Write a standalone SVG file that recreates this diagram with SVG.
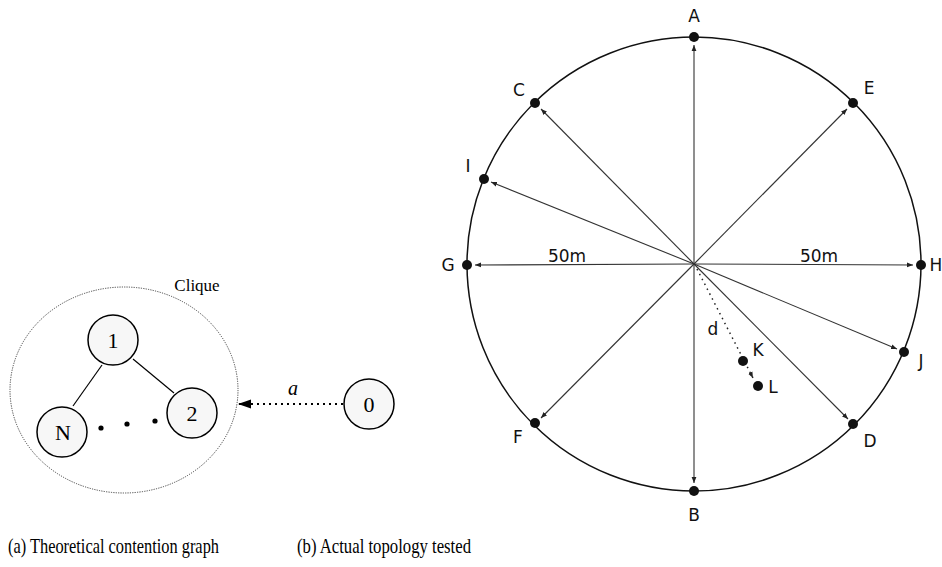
<svg xmlns="http://www.w3.org/2000/svg" width="942" height="567" viewBox="0 0 942 567">
<defs>
<style>
.node{fill:#f7f7f7;stroke:#000;stroke-width:1.5}
.serif{font-family:"Liberation Serif","Times New Roman",serif;fill:#000}
.sans{font-family:"DejaVu Sans","Liberation Sans",sans-serif;font-size:17px;fill:#111}
.edge{stroke:#000;stroke-width:1.2;fill:none}
.spoke{stroke:#333;stroke-width:1.1;fill:none}
.pt{fill:#111}
</style>
<marker id="ah" viewBox="0 0 10 10" refX="10" refY="5" markerWidth="6" markerHeight="6" markerUnits="userSpaceOnUse" orient="auto">
<path d="M0,1 L10,5 L0,9 z" fill="#222"/>
</marker>
<marker id="big" viewBox="0 0 10 10" refX="10" refY="5" markerWidth="13" markerHeight="13" markerUnits="userSpaceOnUse" orient="auto">
<path d="M0,1.5 L10,5 L0,8.5 z" fill="#000"/>
</marker>
</defs>
<rect width="942" height="567" fill="#fff"/>

<!-- Left: theoretical contention graph -->
<g id="clique">
<ellipse cx="124" cy="390" rx="114" ry="103" fill="none" stroke="#444" stroke-width="1" stroke-dasharray="1.2,1.2"/>
<text class="serif" x="197" y="291" font-size="17" text-anchor="middle">Clique</text>
</g>
<g id="left-edges">
<line class="edge" x1="102" y1="365" x2="73" y2="406"/>
<line class="edge" x1="133" y1="359" x2="174" y2="393"/>
<circle cx="101" cy="428" r="2.6" fill="#000"/>
<circle cx="127" cy="424" r="2.6" fill="#000"/>
<circle cx="155" cy="421" r="2.6" fill="#000"/>
<line x1="343" y1="404" x2="238" y2="404" stroke="#000" stroke-width="2" stroke-dasharray="2,4" marker-end="url(#big)"/>
<text class="serif" x="293" y="395" font-size="20" font-style="italic" text-anchor="middle">a</text>
</g>
<g id="n1"><circle class="node" cx="113" cy="340" r="25"/><text class="serif" x="113" y="348" font-size="22" text-anchor="middle">1</text></g>
<g id="n2"><circle class="node" cx="192" cy="413" r="25"/><text class="serif" x="192" y="421" font-size="22" text-anchor="middle">2</text></g>
<g id="nN"><circle class="node" cx="62" cy="432" r="25"/><text class="serif" x="63" y="440" font-size="22" text-anchor="middle">N</text></g>
<g id="n0"><circle class="node" cx="369" cy="404" r="25"/><text class="serif" x="369" y="412" font-size="22" text-anchor="middle">0</text></g>

<!-- Right: actual topology -->
<g id="ring">
<circle cx="694" cy="264" r="227" fill="none" stroke="#111" stroke-width="1.5"/>
</g>
<g id="connectors">
<line class="spoke" x1="694" y1="264" x2="694" y2="45" marker-end="url(#ah)"/>
<line class="spoke" x1="694" y1="264" x2="694" y2="483" marker-end="url(#ah)"/>
<line class="spoke" x1="694" y1="264" x2="475" y2="265" marker-end="url(#ah)"/>
<line class="spoke" x1="694" y1="264" x2="913" y2="265" marker-end="url(#ah)"/>
<line class="spoke" x1="694" y1="264" x2="541" y2="109" marker-end="url(#ah)"/>
<line class="spoke" x1="694" y1="264" x2="847" y2="109" marker-end="url(#ah)"/>
<line class="spoke" x1="694" y1="264" x2="491" y2="182" marker-end="url(#ah)"/>
<line class="spoke" x1="694" y1="264" x2="897" y2="349" marker-end="url(#ah)"/>
<line class="spoke" x1="694" y1="264" x2="541" y2="418" marker-end="url(#ah)"/>
<line class="spoke" x1="694" y1="264" x2="848" y2="419" marker-end="url(#ah)"/>
<line x1="697" y1="269" x2="753" y2="378" stroke="#222" stroke-width="1.5" stroke-dasharray="1.5,4" marker-end="url(#ah)"/>
</g>
<g id="A"><circle class="pt" cx="694" cy="37" r="5"/><text class="sans" x="694" y="22" text-anchor="middle">A</text></g>
<g id="B"><circle class="pt" cx="694" cy="491" r="5"/><text class="sans" x="694" y="521" text-anchor="middle">B</text></g>
<g id="C"><circle class="pt" cx="535" cy="103" r="5"/><text class="sans" x="519" y="96" text-anchor="middle">C</text></g>
<g id="E"><circle class="pt" cx="853" cy="103" r="5"/><text class="sans" x="869" y="94" text-anchor="middle">E</text></g>
<g id="I"><circle class="pt" cx="484" cy="179" r="5"/><text class="sans" x="468" y="172" text-anchor="middle">I</text></g>
<g id="G"><circle class="pt" cx="467" cy="265" r="5"/><text class="sans" x="448" y="271" text-anchor="middle">G</text></g>
<g id="H"><circle class="pt" cx="921" cy="265" r="5"/><text class="sans" x="936" y="271" text-anchor="middle">H</text></g>
<g id="J"><circle class="pt" cx="904" cy="352" r="5"/><text class="sans" x="921" y="367" text-anchor="middle">J</text></g>
<g id="F"><circle class="pt" cx="535" cy="423" r="5"/><text class="sans" x="518" y="443" text-anchor="middle">F</text></g>
<g id="D"><circle class="pt" cx="853" cy="424" r="5"/><text class="sans" x="870" y="447" text-anchor="middle">D</text></g>
<g id="K"><circle class="pt" cx="743" cy="361" r="5"/><text class="sans" x="758" y="356" text-anchor="middle">K</text></g>
<g id="L"><circle class="pt" cx="758" cy="386" r="5"/><text class="sans" x="773" y="393" text-anchor="middle">L</text></g>
<text class="sans" x="713" y="335" text-anchor="middle">d</text>
<text class="sans" x="567" y="262" text-anchor="middle">50m</text>
<text class="sans" x="819" y="262" text-anchor="middle">50m</text>

<!-- captions -->
<text class="serif" x="8" y="553" font-size="22" textLength="211" lengthAdjust="spacingAndGlyphs">(a) Theoretical contention graph</text>
<text class="serif" x="297" y="553" font-size="22" textLength="174" lengthAdjust="spacingAndGlyphs">(b) Actual topology tested</text>
</svg>
